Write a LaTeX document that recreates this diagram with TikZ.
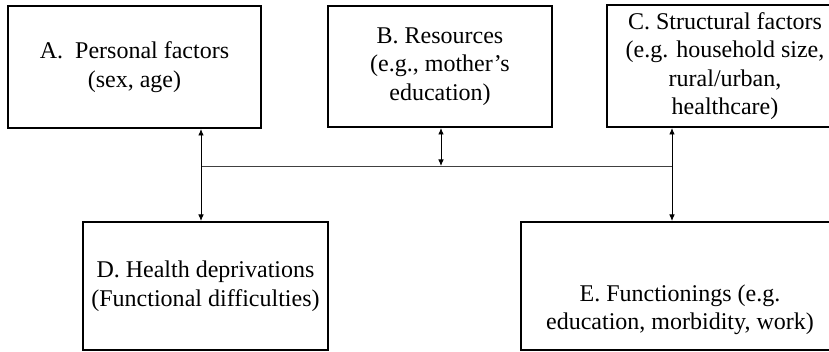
\documentclass[tikz,border=0pt]{standalone}
\usepackage{fontspec}
\setmainfont{Liberation Serif}
\usetikzlibrary{arrows.meta}

\tikzset{
  factor/.style={draw, line width=2pt, align=center, inner sep=0pt,
    font=\fontsize{24}{28.5}\selectfont},
  link/.style={line width=0.9pt,
    {Latex[length=6.5pt,width=5.5pt]}-{Latex[length=6.5pt,width=5.5pt]}},
  bus/.style={line width=0.7pt, black!75},
}

\begin{document}
\begin{tikzpicture}[x=1pt, y=-1pt]
    \useasboundingbox (0,0) rectangle (829,352);
    \clip (0,0) rectangle (829,352);

    % upper row
    \node[factor, minimum width=253pt, minimum height=122pt] (A) at (134.5, 67)
      {A.\ \ Personal factors\\(sex, age)};
    \node[factor, minimum width=224pt, minimum height=121pt] (B) at (440, 66.5)
      {B. Resources\\(e.g., mother's\\education)};
    \node[factor, minimum width=236pt, minimum height=122pt] (C) at (725, 66)
      {C. Structural factors\\(e.g. household size,\\rural/urban,\hspace*{1.8em}\\healthcare)};

    % lower row
    \node[factor, minimum width=245pt, minimum height=128pt] (D) at (205.5, 286)
      {D. Health deprivations\\(Functional difficulties)};
    \node[factor, minimum width=318pt, minimum height=128pt] (E) at (680, 286)
      {\rule{0pt}{64pt}E. Functionings (e.g.\\education, morbidity, work)};

    % joining line
    \coordinate (jl) at (201, 166);
    \coordinate (jr) at (672, 166);
    \coordinate (jb) at (441, 166);
    \draw[bus] (jl) -- (jr);

    \draw[link] (A.south -| jl) -- (D.north -| jl);
    \draw[link] (C.south -| jr) -- (E.north -| jr);
    \draw[link] (B.south -| jb) -- (jb);
\end{tikzpicture}
\end{document}
